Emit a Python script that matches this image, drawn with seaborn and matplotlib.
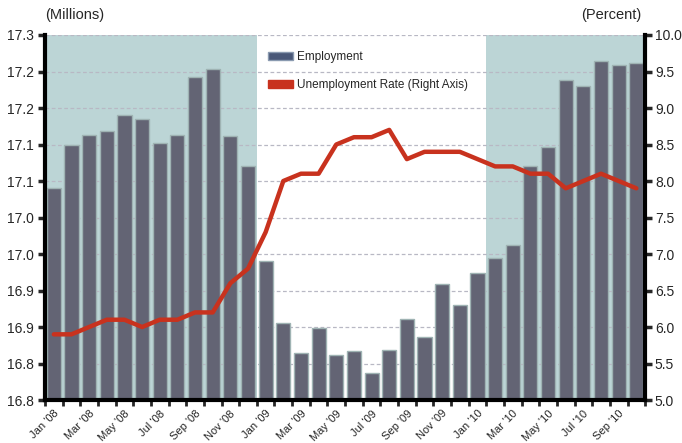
import numpy as np
import pandas as pd
import matplotlib
matplotlib.use('Agg')
import matplotlib.pyplot as plt
import seaborn as sns
from matplotlib.patches import Patch

# monthly data, Jan '08 .. Oct '10
months = ['Jan', 'Feb', 'Mar', 'Apr', 'May', 'Jun',
          'Jul', 'Aug', 'Sep', 'Oct', 'Nov', 'Dec']
years = ["'08", "'09", "'10"]
labels = [m + ' ' + y for y in years for m in months][:34]

employment = [17.091, 17.150, 17.163, 17.169, 17.190, 17.185,
              17.152, 17.163, 17.243, 17.253, 17.161, 17.120,
              16.990, 16.906, 16.865, 16.898, 16.862, 16.867,
              16.837, 16.869, 16.911, 16.887, 16.959, 16.930,
              16.974, 16.995, 17.013, 17.121, 17.147, 17.239,
              17.230, 17.265, 17.259, 17.262]

unemp_rate = [5.9, 5.9, 6.0, 6.1, 6.1, 6.0, 6.1, 6.1, 6.2, 6.2, 6.6, 6.8,
              7.3, 8.0, 8.1, 8.1, 8.5, 8.6, 8.6, 8.7, 8.3, 8.4, 8.4, 8.4,
              8.3, 8.2, 8.2, 8.1, 8.1, 7.9, 8.0, 8.1, 8.0, 7.9]

df = pd.DataFrame({'month': labels, 'employment': employment,
                   'rate': unemp_rate, 'pos': np.arange(len(labels))})

sns.set_style('white')
plt.rcParams['font.family'] = ['Liberation Sans', 'DejaVu Sans']

bar_color = '#636474'
red = '#c8321e'
shade = '#bcd5d6'

fig = plt.figure(figsize=(6.82, 4.43), dpi=100)
ax = fig.add_axes([0.066, 0.097, 0.880, 0.824])

# shaded periods
ax.axvspan(-0.5, 11.5, color=shade, zorder=0.2, lw=0)
ax.axvspan(24.5, 33.5, color=shade, zorder=0.2, lw=0)

sns.barplot(data=df, x='month', y='employment', order=labels,
            color=bar_color, saturation=1, width=0.8,
            edgecolor='#9fb3b3', linewidth=1.0, ax=ax, zorder=2)

ax.set_ylim(16.8, 17.3)
ax.set_xlim(-0.5, len(labels) - 0.5)
yt = np.linspace(16.8, 17.3, 11)
ax.set_yticks(yt)
# labels in the original are truncated to one decimal
ax.set_yticklabels(['%.1f' % (np.floor(v * 10 + 1e-6) / 10) for v in yt], fontsize=10)
ax.yaxis.grid(True, linestyle=(0, (3, 2)), color='#b8b8c4', lw=0.9, zorder=0.5)
ax.set_axisbelow(True)

ax.set_xticks(range(0, len(labels), 2))
ax.set_xticklabels(labels[::2], rotation=45, ha='right', rotation_mode='anchor', fontsize=8)
ax.set_xticks(np.arange(-0.5, len(labels), 1), minor=True)
ax.tick_params(axis='x', which='major', length=0, pad=6)
ax.tick_params(axis='x', which='minor', length=4, width=2, direction='out', bottom=True)
ax.tick_params(axis='y', length=5, width=2.5, direction='out', left=True, pad=3)
ax.set_xlabel('')
ax.set_ylabel('')
for s in ['top', 'right']:
    ax.spines[s].set_visible(False)
for s in ['left', 'bottom']:
    ax.spines[s].set_linewidth(3)
    ax.spines[s].set_color('black')

ax2 = ax.twinx()
sns.lineplot(data=df, x='pos', y='rate', color=red, lw=3.2, ax=ax2)
ax2.set_ylim(5.0, 10.0)
ax2.set_yticks(np.arange(5.0, 10.01, 0.5))
ax2.set_yticklabels(['%.1f' % v for v in np.arange(5.0, 10.01, 0.5)], fontsize=10)
ax2.tick_params(axis='y', length=5, width=2.5, direction='out', right=True, pad=2)
ax2.set_ylabel('')
ax2.set_xlabel('')
for s in ['top', 'left', 'bottom']:
    ax2.spines[s].set_visible(False)
ax2.spines['right'].set_linewidth(3)
ax2.spines['right'].set_color('black')

ax.text(0.0, 1.035, '(Millions)', transform=ax.transAxes, fontsize=10.5,
        ha='left', va='bottom')
ax2.text(0.993, 1.035, '(Percent)', transform=ax2.transAxes, fontsize=10.5,
         ha='right', va='bottom')

handles = [Patch(facecolor='#4a5878', edgecolor='#8a9ab0'),
           Patch(facecolor=red, edgecolor=red)]
ax2.legend(handles, ['Employment', 'Unemployment Rate (Right Axis)'],
           loc='upper left', bbox_to_anchor=(0.354, 0.985), frameon=False,
           fontsize=8.5, handlelength=2.1, handleheight=0.75,
           handletextpad=0.35, labelspacing=1.35)

fig.savefig('out.png', dpi=100)
